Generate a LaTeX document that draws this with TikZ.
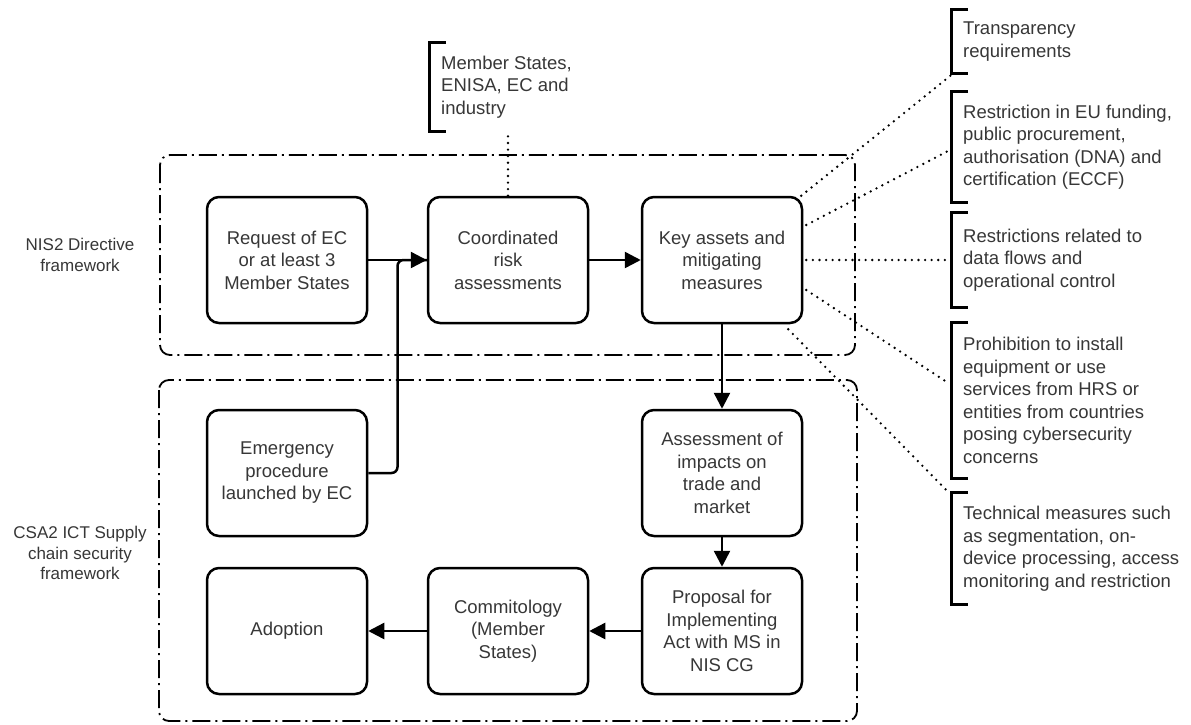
\documentclass[tikz,border=0pt]{standalone}
\usepackage{fontspec}
\setmainfont{Liberation Sans}
\usetikzlibrary{arrows.meta,calc}
\definecolor{textc}{RGB}{55,55,55}
\newcommand\mainfs{\fontsize{18.5}{22.5}\selectfont}
\newcommand\sidefs{\fontsize{17}{20.5}\selectfont}
\newcommand\drawbrk[1]{\draw[bracket] ($(#1.north west)+(5,0)$) -- ($(#1.north west)+(-12,0)$) -- ($(#1.south west)+(-12,0)$) -- ($(#1.south west)+(5,0)$);}
\begin{document}
\begin{tikzpicture}[x=1pt,y=-1pt,
  box/.style={draw=black,line width=2.5pt,rounded corners=12pt,minimum width=160pt,minimum height=126pt,align=center,text=textc,font=\mainfs,inner sep=2pt},
  flow/.style={line width=2.5pt,-{Triangle[length=16pt,width=16pt]}},
  frame/.style={line width=1.8pt,dash pattern=on 18pt off 5pt on 2pt off 5pt,rounded corners=10pt},
  dotline/.style={line width=2.6pt,dash pattern=on 0pt off 6.6pt,line cap=round},
  bracket/.style={line width=3pt},
  note/.style={anchor=west,align=left,inner xsep=0pt,inner ysep=0pt,text=textc,font=\mainfs},
  side/.style={align=center,text=textc,font=\sidefs}]
\fill[white] (0,0) rectangle (1191,724);
\useasboundingbox (0,0) rectangle (1191,724);

% frames
\draw[frame] (160,155) rectangle (855,355);
\draw[frame] (159,380) rectangle (857,721);

% side labels
\node[side] (nis) at (80,255) {NIS2 Directive\\framework};
\node[side] (csa) at (80,553) {CSA2 ICT Supply\\chain security\\framework};

% boxes
\node[box] (req) at (287,260) {Request of EC\\or at least 3\\Member States};
\node[box] (coord) at (508,260) {Coordinated\\risk\\assessments};
\node[box] (key) at (722,260) {Key assets and\\mitigating\\measures};
\node[box] (emer) at (287,473) {Emergency\\procedure\\launched by EC};
\node[box] (assess) at (722,473) {Assessment of\\impacts on\\trade and\\market};
\node[box] (adopt) at (287,631) {Adoption};
\node[box] (comm) at (508,631) {Commitology\\(Member\\States)};
\node[box] (prop) at (722,631) {Proposal for\\Implementing\\Act with MS in\\NIS CG};

% notes
\node[note,minimum height=88pt] (ann) at (441,87) {Member States,\\ENISA, EC and\\industry};
\node[note,minimum height=63pt] (t1) at (963,41.5) {Transparency\\requirements};
\node[note,minimum height=110pt] (t2) at (963,147) {Restriction in EU funding,\\public procurement,\\authorisation (DNA) and\\certification (ECCF)};
\node[note,minimum height=94pt] (t3) at (963,260) {Restrictions related to\\data flows and\\operational control};
\node[note,minimum height=155pt] (t4) at (963,400.5) {Prohibition to install\\equipment or use\\services from HRS or\\entities from countries\\posing cybersecurity\\concerns};
\node[note,minimum height=111pt] (t5) at (963,548.5) {Technical measures such\\as segmentation, on-\\device processing, access\\monitoring and restriction};
\drawbrk{ann}
\drawbrk{t1}
\drawbrk{t2}
\drawbrk{t3}
\drawbrk{t4}
\drawbrk{t5}

% dotted connectors
\draw[dotline] (coord.north) -- (coord.north |- ann.south);
\draw[dotline] ($(key.north east)+(-2,0)$) -- ($(t1.south west)+(-12,2)$);
\draw[dotline] ($(key.east)+(3,-35)$) -- ($(t2.west)+(-13,3)$);
\draw[dotline] ($(key.east)+(3,0)$) -- ($(t3.west)+(-13,0)$);
\draw[dotline] ($(key.east)+(3,30)$) -- ($(t4.west)+(-14,-17)$);
\draw[dotline] ($(key.south east)+(-15,5)$) -- ($(t5.north west)+(-14,0)$);

% flow
\coordinate (j) at ($(req.east)!0.5!(coord.west)$);
\draw[line width=2.5pt,rounded corners=6pt] (emer.east) -| (j) -- (coord.west);
\draw[flow] (req.east) -- (coord.west);
\draw[flow] (coord.east) -- (key.west);
\draw[flow] (key.south) -- (assess.north);
\draw[flow] (assess.south) -- (prop.north);
\draw[flow] (prop.west) -- (comm.east);
\draw[flow] (comm.west) -- (adopt.east);
\end{tikzpicture}
\end{document}
